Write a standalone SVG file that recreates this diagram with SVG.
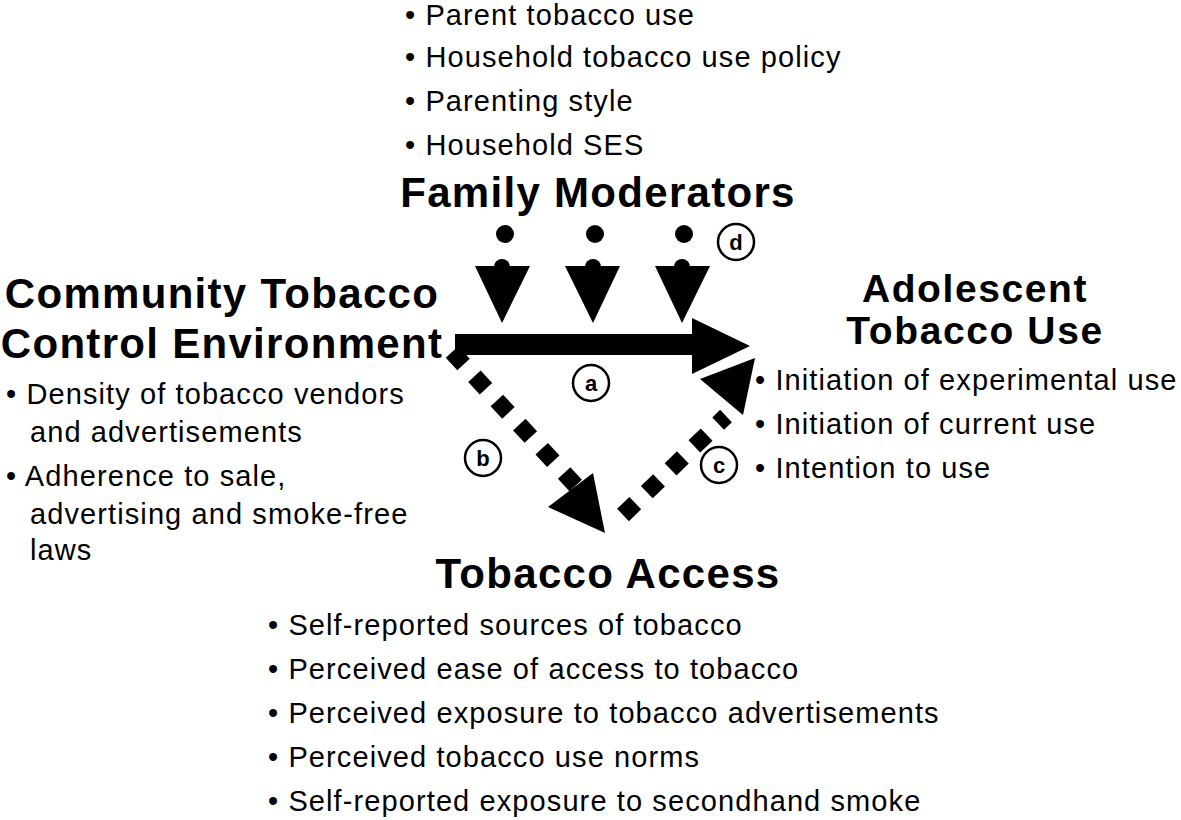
<svg xmlns="http://www.w3.org/2000/svg" width="1181" height="820" viewBox="0 0 1181 820">
<style>
text{font-family:"Liberation Sans",Arial,sans-serif;fill:#000}
.t{font-size:42px;font-weight:bold;letter-spacing:1.3px}
.t2{font-size:39px;font-weight:bold;letter-spacing:1.6px}
.b{font-size:29px;letter-spacing:1.1px}
.l{font-size:22px;font-weight:bold;text-anchor:middle}
.c{fill:#fff;stroke:#000;stroke-width:2.5}
.dash{stroke:#000;stroke-width:17;stroke-dasharray:17 16;fill:none}
</style>
<rect width="1181" height="820" fill="#fff"/>
<g id="family">
<text class="b" x="405" y="25">• Parent tobacco use</text>
<text class="b" x="405" y="67">• Household tobacco use policy</text>
<text class="b" x="405" y="111">• Parenting style</text>
<text class="b" x="405" y="155">• Household SES</text>
<text class="t" x="598" y="207" text-anchor="middle">Family Moderators</text>
</g>
<g id="community">
<text class="t" x="222" y="308" text-anchor="middle">Community Tobacco</text>
<text class="t" x="222" y="358" text-anchor="middle">Control Environment</text>
<text class="b" x="6" y="404">• Density of tobacco vendors</text>
<text class="b" x="30" y="442">and advertisements</text>
<text class="b" x="6" y="486">• Adherence to sale,</text>
<text class="b" x="30" y="524">advertising and smoke-free</text>
<text class="b" x="30" y="560">laws</text>
</g>
<g id="adolescent">
<text class="t2" x="975" y="302" text-anchor="middle">Adolescent</text>
<text class="t2" x="975" y="344" text-anchor="middle">Tobacco Use</text>
<text class="b" x="755" y="390">• Initiation of experimental use</text>
<text class="b" x="755" y="434">• Initiation of current use</text>
<text class="b" x="755" y="478">• Intention to use</text>
</g>
<g id="access">
<text class="t" x="608" y="588" text-anchor="middle">Tobacco Access</text>
<text class="b" x="268" y="635">• Self-reported sources of tobacco</text>
<text class="b" x="268" y="679">• Perceived ease of access to tobacco</text>
<text class="b" x="268" y="723">• Perceived exposure to tobacco advertisements</text>
<text class="b" x="268" y="767">• Perceived tobacco use norms</text>
<text class="b" x="268" y="811">• Self-reported exposure to secondhand smoke</text>
</g>
<g id="connectors">
<rect x="455" y="334" width="240" height="21"/>
<polygon points="692,318 750,346 692,374"/>
<path class="dash" d="M452,352 L578,488"/>
<polygon points="548,507 593,473 605,533"/>
<path class="dash" d="M623,515 L726,416" stroke-dasharray="17 16 17 16 17 16 17 16 30"/>
<polygon points="700,379 755,358 743,415"/>
<g>
<circle cx="505" cy="234" r="9"/><circle cx="502" cy="267" r="8"/><polygon points="475,266 530,266 502,323"/>
<circle cx="595" cy="234" r="9"/><circle cx="593" cy="267" r="8"/><polygon points="565,266 620,266 593,323"/>
<circle cx="684" cy="234" r="9"/><circle cx="682" cy="267" r="8"/><polygon points="655,266 710,266 682,323"/>
</g>
<circle class="c" cx="591" cy="383" r="18"/><text class="l" x="591" y="391">a</text>
<circle class="c" cx="483" cy="458" r="18"/><text class="l" x="483" y="466">b</text>
<circle class="c" cx="719" cy="465" r="18"/><text class="l" x="719" y="473">c</text>
<circle class="c" cx="736" cy="242" r="18"/><text class="l" x="736" y="250">d</text>
</g>
</svg>
